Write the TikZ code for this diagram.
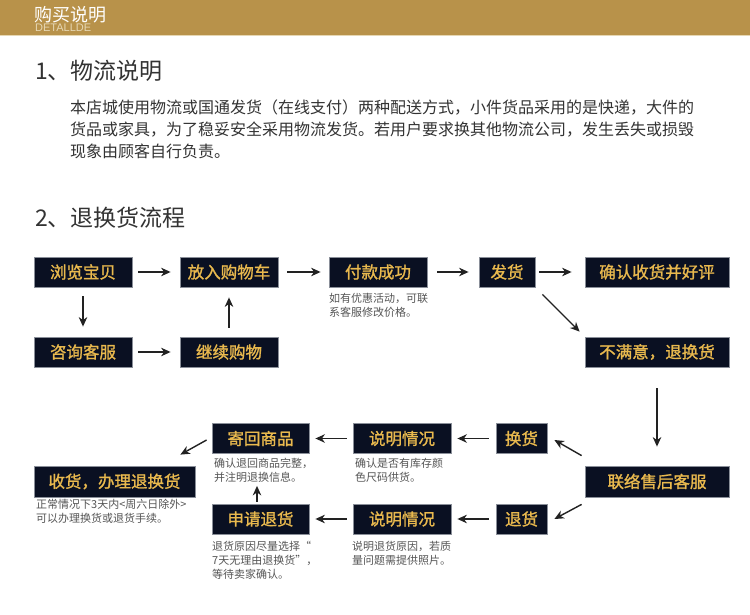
\documentclass[tikz,border=0pt]{standalone}
\usepackage{fontspec}
\setmainfont{Noto Sans CJK SC}
\newfontfamily\latinsans{Liberation Sans}
\newfontface\boxfont{Noto Sans CJK SC}[FakeBold=1.3]
\usetikzlibrary{arrows.meta,calc}

\definecolor{band}{HTML}{B8924A}
\definecolor{bandline}{HTML}{E6D7B3}
\definecolor{boxfill}{HTML}{0A1022}
\definecolor{boxline}{HTML}{8A8F99}
\definecolor{gold}{HTML}{E9B94E}
\definecolor{txt}{HTML}{333333}
\definecolor{captc}{HTML}{555555}
\definecolor{arr}{HTML}{222222}

\begin{document}
\begin{tikzpicture}[x=1pt,y=-1pt,
 flowbox/.style={draw=boxline, line width=0.8pt, fill=boxfill, text=gold,
   font=\boxfont\fontsize{16.5}{18}\selectfont, minimum height=30pt, inner sep=0pt},
 captxt/.style={text=captc, font=\fontsize{11}{14}\selectfont, align=left, anchor=west, inner sep=0pt},
 flowarrow/.style={draw=arr, line width=1.4pt, -{Stealth[length=9.5pt,width=8.5pt,inset=3pt]}},
 titletxt/.style={text=txt, font=\fontsize{23}{26}\selectfont, anchor=west, inner sep=0pt},
]
\useasboundingbox (0,0) rectangle (750,615);
\fill[white] (0,0) rectangle (750,615);

% header band
\fill[band] (0,0) rectangle (750,35);
\fill[bandline] (0,35) rectangle (750,36.5);
\node[anchor=west, inner sep=0pt, text=white, font=\fontsize{18}{20}\selectfont] (hdr) at (34,14.5) {购买说明};
\node[anchor=west, inner sep=0pt, text=bandline, font=\latinsans\fontsize{11}{12}\selectfont] (hdrsub) at (35,28) {DETALLDE};

% section 1
\node[titletxt] (t1) at (35,71) {1、物流说明};
\node[text=txt, font=\fontsize{16}{22}\selectfont, align=left, anchor=west, inner sep=0pt] (para) at (70,129)
 {本店城使用物流或国通发货（在线支付）两种配送方式，小件货品采用的是快递，大件的\\
  货品或家具，为了稳妥安全采用物流发货。若用户要求换其他物流公司，发生丢失或损毁\\
  现象由顾客自行负责。};

% section 2
\node[titletxt] (t2) at (35,218) {2、退换货流程};

% boxes
\node[flowbox, minimum width=98pt] (browse) at (83,272) {浏览宝贝};
\node[flowbox, minimum width=98pt] (cart) at (229,272) {放入购物车};
\node[flowbox, minimum width=98pt] (pay) at (378,272) {付款成功};
\node[flowbox, minimum width=56pt] (ship) at (507,272) {发货};
\node[flowbox, minimum width=144pt] (confirm) at (657,272) {确认收货并好评};
\node[flowbox, minimum width=98pt] (consult) at (83,352) {咨询客服};
\node[flowbox, minimum width=98pt] (cont) at (229,352) {继续购物};
\node[flowbox, minimum width=144pt] (unsat) at (657,352) {不满意，退换货};

\node[flowbox, minimum width=97pt] (sendback) at (260.5,438.5) {寄回商品};
\node[flowbox, minimum width=161pt, minimum height=31pt] (receive) at (114.5,481.5) {收货，办理退换货};
\node[flowbox, minimum width=97pt] (apply) at (260.5,519) {申请退货};
\node[flowbox, minimum width=98pt] (explainA) at (402,438.5) {说明情况};
\node[flowbox, minimum width=98pt] (explainB) at (402,519) {说明情况};
\node[flowbox, minimum width=51pt] (exch) at (521.5,438.5) {换货};
\node[flowbox, minimum width=51pt] (ret) at (521.5,519) {退货};
\node[flowbox, minimum width=144pt, minimum height=31pt] (contact) at (657,481.5) {联络售后客服};

% captions
\node[captxt] (cpay) at (329,305) {如有优惠活动，可联\\系客服修改价格。};
\node[captxt] (csend) at (214,470) {确认退回商品完整，\\并注明退换信息。};
\node[captxt] (cexA) at (355,470) {确认是否有库存颜\\色尺码供货。};
\node[captxt] (crec) at (36,511) {正常情况下3天内<周六日除外>\\可以办理换货或退货手续。};
\node[captxt] (capp) at (212,560) {退货原因尽量选择“\\7天无理由退换货”，\\等待卖家确认。};
\node[captxt] (cexB) at (352,553) {说明退货原因，若质\\量问题需提供照片。};

% arrows
\draw[flowarrow, shorten <=6pt, shorten >=9pt] (browse) -- (cart);
\draw[flowarrow, shorten <=9pt, shorten >=8pt] (cart) -- (pay);
\draw[flowarrow, shorten <=10pt, shorten >=10pt] (pay) -- (ship);
\draw[flowarrow, shorten <=4pt, shorten >=13pt] (ship) -- (confirm);
\draw[flowarrow, shorten <=9pt, shorten >=10pt] (browse) -- (consult);
\draw[flowarrow, shorten <=6pt, shorten >=9pt] (consult) -- (cont);
\draw[flowarrow, shorten <=9pt, shorten >=10pt] (cont) -- (cart);
\draw[flowarrow, shorten <=10pt, shorten >=7pt] (ship.south east) -- (unsat.north west);
\draw[flowarrow, shorten <=21pt, shorten >=19pt] (unsat) -- (contact);

\draw[flowarrow] ($(contact.north west)+(-3,-10)$) -- ($(exch.east)+(7,1.5)$);
\draw[flowarrow] ($(contact.south west)+(-3,7)$) -- ($(ret.east)+(7,0)$);
\draw[flowarrow, shorten <=7pt, shorten >=6pt] (exch) -- (explainA);
\draw[flowarrow, shorten <=7pt, shorten >=6pt] (ret) -- (explainB);
\draw[flowarrow, shorten <=6pt, shorten >=6pt] (explainA) -- (sendback);
\draw[flowarrow, shorten <=6pt, shorten >=6pt] (explainB) -- (apply);
\draw[flowarrow, shorten <=2pt, shorten >=32pt] ($(apply.north)+(-3.5,0)$) -- ($(sendback.south)+(-3.5,0)$);
\draw[flowarrow] ($(sendback.west)+(-5,1.5)$) -- ($(receive.north east)+(-15,-11)$);
\end{tikzpicture}
\end{document}
